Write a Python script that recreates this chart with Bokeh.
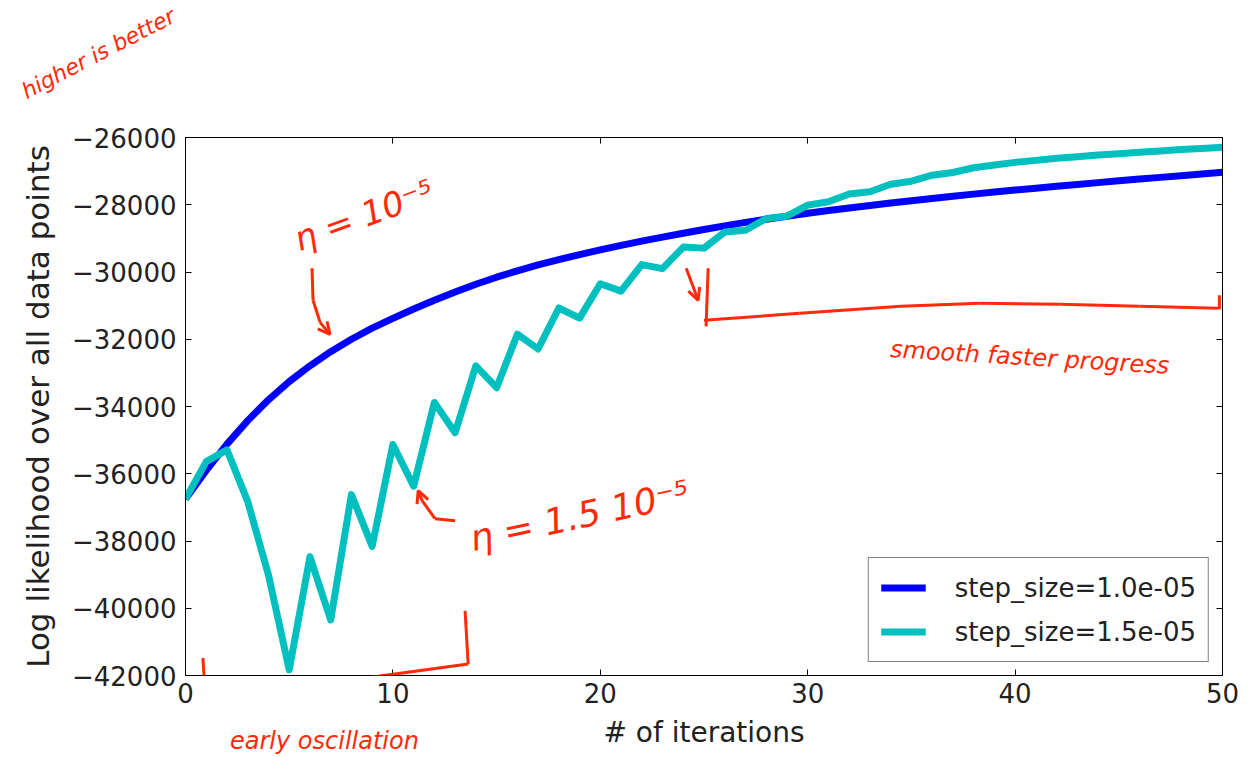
from bokeh.plotting import figure
from bokeh.models import (Range1d, FixedTicker, LinearAxis, Label, Arrow, OpenHead,
                          Legend, LegendItem)
from bokeh.embed import file_html
from bokeh.resources import INLINE

# ---------------- data ----------------
iterations = list(range(51))

ll_step_1_0e5 = [
    -36750, -35900, -35120, -34420, -33800, -33260, -32790, -32370, -32000, -31670,
    -31380, -31100, -30838, -30593, -30363, -30155, -29965, -29790, -29630, -29482,
    -29340, -29207, -29081, -28961, -28846, -28735, -28628, -28525, -28431, -28341,
    -28255, -28173, -28095, -28020, -27948, -27879, -27812, -27747, -27684, -27623,
    -27564, -27507, -27451, -27396, -27342, -27289, -27237, -27186, -27135, -27085,
    -27035,
]

ll_step_1_5e5 = [
    -36750, -35640, -35290, -36830, -39010, -41830, -38470, -40350, -36620, -38160,
    -35130, -36370, -33880, -34780, -32790, -33440, -31850, -32290, -31070, -31370,
    -30350, -30570, -29780, -29900, -29260, -29290, -28810, -28760, -28410, -28340,
    -28010, -27910, -27680, -27615, -27390, -27300, -27120, -27040, -26900, -26820,
    -26740, -26680, -26620, -26570, -26520, -26480, -26440, -26400, -26360, -26325,
    -26290,
]

series_labels = ["step_size=1.0e-05", "step_size=1.5e-05"]
series_colors = ["#0000ff", "#00bfbf"]

x_ticks = [0, 10, 20, 30, 40, 50]
x_tick_labels = ["0", "10", "20", "30", "40", "50"]
y_ticks = [-42000, -40000, -38000, -36000, -34000, -32000, -30000, -28000, -26000]
y_tick_labels = ["\u221242000", "\u221240000", "\u221238000", "\u221236000", "\u221234000",
                 "\u221232000", "\u221230000", "\u221228000", "\u221226000"]

x_label = "# of iterations"
y_label = "Log likelihood over all data points"

# hand-written annotation texts
note_texts = ["higher is better", "\u03b7 = 10\u207b\u2075", "\u03b7 = 1.5 10\u207b\u2075",
              "smooth faster progress", "early oscillation"]

# ---------------- figure ----------------
FONT = "DejaVu Sans"
TXT = "#222222"
RED = "#ff2a0a"

p = figure(width=1250, height=756,
           x_range=Range1d(0, 50), y_range=Range1d(-42000, -26000),
           output_backend="svg", toolbar_location=None,
           min_border_left=185, min_border_right=28,
           min_border_top=137, min_border_bottom=81,
           x_axis_label=x_label, y_axis_label=y_label)

p.grid.visible = False
p.outline_line_color = "black"
p.outline_line_width = 1
p.background_fill_color = "white"
p.border_fill_color = "white"

def style_axis(ax, ticks, labels, show_labels=True):
    ax.ticker = FixedTicker(ticks=ticks)
    ax.major_label_overrides = {t: l for t, l in zip(ticks, labels)}
    ax.major_tick_in = 6
    ax.major_tick_out = 0
    ax.minor_tick_in = 0
    ax.minor_tick_out = 0
    ax.axis_line_color = "black"
    ax.major_tick_line_color = "black"
    ax.major_label_text_font = FONT
    ax.major_label_text_color = TXT
    if show_labels:
        ax.major_label_text_font_size = "26px"
    else:
        ax.major_label_text_font_size = "0px"
        ax.major_label_text_alpha = 0

style_axis(p.xaxis[0], x_ticks, x_tick_labels)
style_axis(p.yaxis[0], y_ticks, y_tick_labels)
p.xaxis[0].major_label_standoff = 7
p.yaxis[0].major_label_standoff = 9
for ax in (p.xaxis[0], p.yaxis[0]):
    ax.axis_label_text_font = FONT
    ax.axis_label_text_font_style = "normal"
    ax.axis_label_text_color = TXT
p.xaxis[0].axis_label_text_font_size = "28px"
p.yaxis[0].axis_label_text_font_size = "31px"
p.xaxis[0].axis_label_standoff = 10
p.yaxis[0].axis_label_standoff = 13

top_axis = LinearAxis()
style_axis(top_axis, x_ticks, x_tick_labels, show_labels=False)
top_axis.major_label_standoff = 0
p.add_layout(top_axis, "above")
right_axis = LinearAxis()
style_axis(right_axis, y_ticks, y_tick_labels, show_labels=False)
right_axis.major_label_standoff = 0
p.add_layout(right_axis, "right")

# ---------------- series ----------------
r1 = p.line(iterations, ll_step_1_0e5, line_color=series_colors[0], line_width=7,
            line_join="round")
r2 = p.line(iterations, ll_step_1_5e5, line_color=series_colors[1], line_width=7,
            line_join="round")

legend = Legend(items=[LegendItem(label=series_labels[0], renderers=[r1]),
                       LegendItem(label=series_labels[1], renderers=[r2])],
                location="bottom_right", margin=13, padding=12, spacing=9,
                glyph_width=45, glyph_height=35, label_height=35, label_standoff=29,
                label_text_font=FONT, label_text_font_size="26px",
                label_text_color=TXT, border_line_color="black", border_line_width=1,
                background_fill_color="white", background_fill_alpha=1)
p.add_layout(legend)

# ---------------- hand-drawn annotations (positions in data units) ----------------
def stroke(points, head=False, width=3):
    for i in range(len(points) - 1):
        (xa, ya), (xb, yb) = points[i], points[i + 1]
        last = head and i == len(points) - 2
        p.add_layout(Arrow(x_start=xa, y_start=ya, x_end=xb, y_end=yb,
                           line_color=RED, line_width=width,
                           end=OpenHead(size=12, line_color=RED, line_width=width) if last else None))

def note(text, x, y, angle, size, place=None):
    lab = Label(x=x, y=y, text=text, angle=angle, text_color=RED,
                text_font="DejaVu Sans", text_font_style="italic",
                text_font_size=size, text_align="center", text_baseline="middle")
    if place is None:
        p.add_layout(lab)
    else:
        p.add_layout(lab, place)

# notes outside the frame go into a side panel so they are not clipped
note(note_texts[0], -4.2, -23500, 0.48, "22px", place="above")
note(note_texts[4], 6.7, -43950, 0.0, "24px", place="above")

note(note_texts[1], 8.6, -28310, 0.35, "34px")
stroke([(6.10, -29889), (6.15, -30842), (6.49, -31498), (6.97, -31855)], head=True)

note(note_texts[2], 19.0, -37250, 0.21, "36px")
stroke([(13.0, -37398), (12.03, -37338), (11.41, -36801), (11.22, -36503)], head=True)

stroke([(24.14, -29889), (24.72, -30842)], head=True)
stroke([(25.2, -29889), (25.1, -31617)])
stroke([(25.0, -31438), (29.6, -31230), (34.5, -31021), (38.3, -30931), (42.2, -30961),
        (46.0, -31021), (49.8, -31081)])
stroke([(49.85, -30693), (49.85, -31110)])
note(note_texts[3], 40.7, -32540, -0.06, "24px")

stroke([(0.84, -41480), (0.94, -42464), (5.04, -42404), (9.38, -42017), (13.63, -41659),
        (13.48, -40079)])

open("out.html", "w").write(file_html(p, INLINE))
